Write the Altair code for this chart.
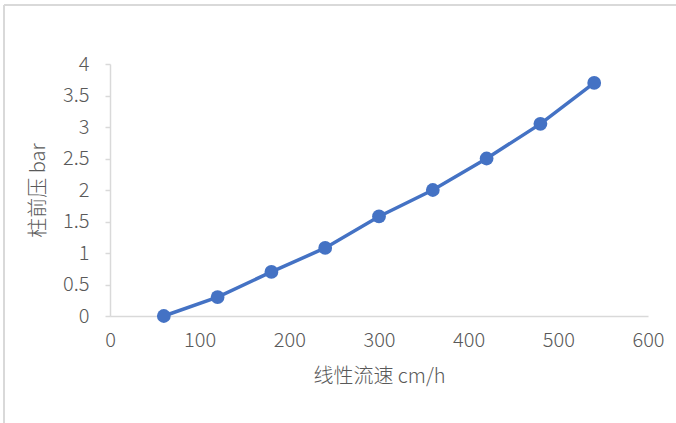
import altair as alt
import pandas as pd

# Linear flow velocity (cm/h) vs. column inlet pressure (bar)
velocity = [60, 120, 180, 240, 300, 360, 420, 480, 540]
pressure = [0.0, 0.3, 0.7, 1.08, 1.58, 2.0, 2.5, 3.05, 3.7]

df = pd.DataFrame({"velocity": velocity, "pressure": pressure})

BLUE = "#4472C4"
GRAY_TXT = "#595959"
GRAY_LINE = "#D9D9D9"
FONT = "Noto Sans CJK SC"

x_enc = alt.X(
    "velocity:Q",
    scale=alt.Scale(domain=[0, 600], nice=False),
    axis=alt.Axis(
        values=[0, 100, 200, 300, 400, 500, 600],
        format="d",
        title="线性流速 cm/h",
        grid=False,
        ticks=False,
        domainColor=GRAY_LINE,
        domainWidth=1.5,
        labelColor=GRAY_TXT,
        labelFont=FONT,
        labelFontSize=20,
        labelFontWeight=300,
        labelPadding=14,
        labelFlush=False,
        titleColor=GRAY_TXT,
        titleFont=FONT,
        titleFontSize=20,
        titleFontWeight=300,
        titlePadding=16,
    ),
)
y_enc = alt.Y(
    "pressure:Q",
    scale=alt.Scale(domain=[0, 4], nice=False),
    axis=alt.Axis(
        values=[0, 0.5, 1, 1.5, 2, 2.5, 3, 3.5, 4],
        format="~g",
        title="柱前压 bar",
        grid=False,
        tickColor=GRAY_LINE,
        tickSize=5,
        tickWidth=1.5,
        domainColor=GRAY_LINE,
        domainWidth=1.5,
        labelColor=GRAY_TXT,
        labelFont=FONT,
        labelFontSize=20,
        labelFontWeight=300,
        labelPadding=16,
        labelFlush=False,
        titleColor=GRAY_TXT,
        titleFont=FONT,
        titleFontSize=20,
        titleFontWeight=300,
        titlePadding=14,
    ),
)

base = alt.Chart(df).encode(x=x_enc, y=y_enc)
line = base.mark_line(color=BLUE, strokeWidth=3.5)
points = base.mark_circle(color=BLUE, size=190, opacity=1)

# light frame around the whole chart (left and top edges)
frame_left = alt.Chart(df).mark_rule(color=GRAY_LINE, strokeWidth=2, clip=False).encode(
    x=alt.value(-106), y=alt.value(-59), y2=alt.value(400)
)
frame_top = alt.Chart(df).mark_rule(color=GRAY_LINE, strokeWidth=2, clip=False).encode(
    x=alt.value(-106), x2=alt.value(600), y=alt.value(-59)
)

chart = (
    alt.layer(frame_left, frame_top, line, points)
    .properties(
        width=538,
        height=252,
        autosize=alt.AutoSizeParams(type="none"),
        padding={"left": 110, "top": 64, "right": 28, "bottom": 107},
        background="white",
    )
    .configure_view(stroke=None)
)

chart.save("out.html", embed_options={"renderer": "svg", "actions": False})
